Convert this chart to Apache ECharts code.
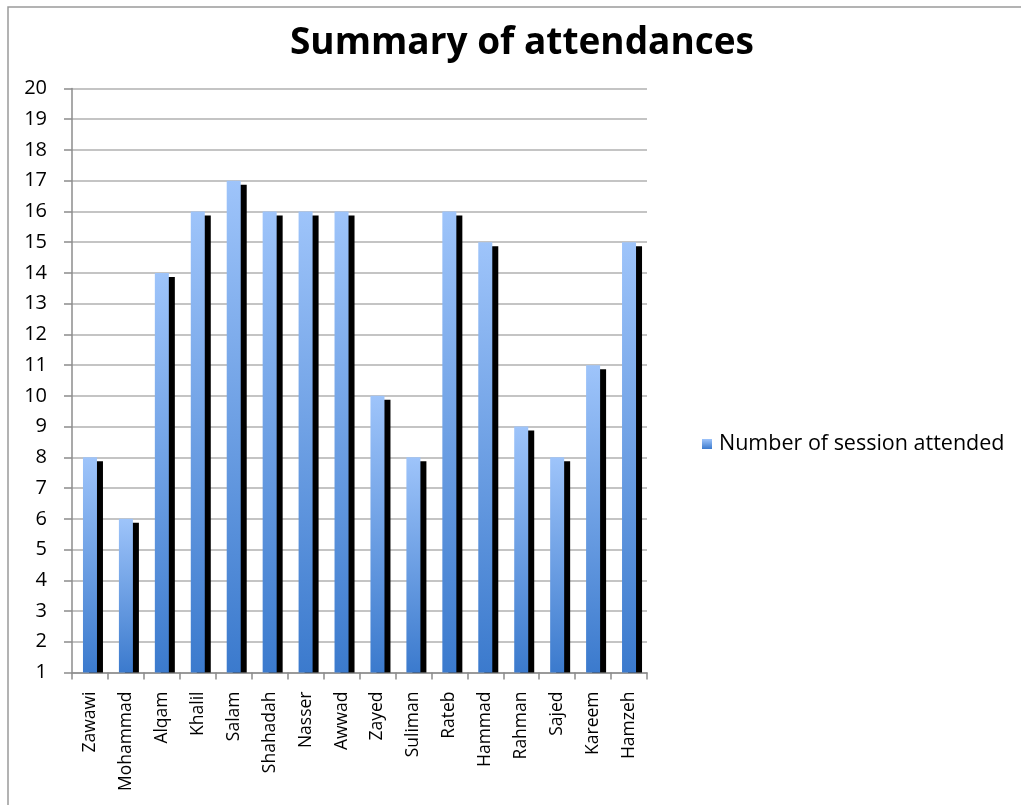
<!DOCTYPE html>
<html>
<head>
<meta charset="utf-8">
<script src="https://cdn.jsdelivr.net/npm/echarts@6/dist/echarts.min.js"></script>
<style>html,body{margin:0;padding:0;background:#fff}#c{width:1021px;height:805px}</style>
</head>
<body>
<div id="c"></div>
<script>
const categories = ["Zawawi","Mohammad","Alqam","Khalil","Salam","Shahadah","Nasser","Awwad","Zayed","Suliman","Rateb","Hammad","Rahman","Sajed","Kareem","Hamzeh"];
const sessions = [8,6,14,16,17,16,16,16,10,8,16,15,9,8,11,15];
const seriesName = "Number of session attended";
const titleText = "Summary of attendances";

const FONT = "Open Sans";
const makeGrad = () => new echarts.graphic.LinearGradient(0,0,0,1,[{offset:0,color:'#9ec4fa'},{offset:1,color:'#3b7acd'}]);
const BAR_W = 14, SH_X = 6, SH_Y = 4;

function renderItem(params, api) {
  const idx = api.value(0);
  const v = api.value(1);
  const top = api.coord([idx, v]);
  const base = api.coord([idx, 1]);
  const h = base[1] - top[1];
  return {
    type: 'group',
    children: [
      {type:'rect', shape:{x: top[0]-BAR_W/2+SH_X, y: top[1]+SH_Y, width: BAR_W, height: Math.max(0,h-SH_Y)}, style:{fill:'#000'}},
      {type:'rect', shape:{x: top[0]-BAR_W/2, y: top[1], width: BAR_W, height: h}, style:{fill: makeGrad()}}
    ]
  };
}

const chart = echarts.init(document.getElementById('c'), null, {renderer:'canvas'});
chart.setOption({
  backgroundColor:'#fff',
  animation:false,
  graphic:[{type:'rect',shape:{x:8,y:7,width:1030,height:810},style:{fill:'none',stroke:'#9a9a9a',lineWidth:1.5},z:-1}],
  title:{text:titleText,left:517,top:20,textAlign:'center',textStyle:{fontFamily:FONT,fontWeight:'bold',fontSize:37,color:'#000'}},
  legend:{show:true,left:697,top:428,itemWidth:10,itemHeight:10,itemGap:5,icon:'rect',
    textStyle:{fontFamily:FONT,fontSize:21.5,color:'#000',padding:[0,0,0,2]},data:[seriesName]},
  grid:{left:72,right:374,top:88.5,bottom:132.5,containLabel:false},
  xAxis:{type:'category',data:categories,
    axisLine:{lineStyle:{color:'#8c8c8c',width:1.5}},
    axisTick:{show:true,alignWithLabel:false,length:7,lineStyle:{color:'#8c8c8c',width:1.5}},
    axisLabel:{rotate:90,margin:19,fontFamily:FONT,fontSize:17.5,color:'#000',interval:0},
    splitLine:{show:false}},
  yAxis:{type:'value',min:1,max:20,interval:1,
    axisLine:{show:true,lineStyle:{color:'#8c8c8c',width:1.5}},
    axisTick:{show:true,length:8,lineStyle:{color:'#8c8c8c',width:1.5}},
    axisLabel:{margin:25,fontFamily:FONT,fontSize:20,fontWeight:500,color:'#000'},
    splitLine:{show:true,lineStyle:{color:'#b0b0b0',width:1.5}}},
  series:[{type:'custom',name:seriesName,renderItem:renderItem,
    encode:{x:0,y:1},
    itemStyle:{color:makeGrad()},
    data:sessions.map((v,i)=>[i,v])}]
});
</script>
</body>
</html>
